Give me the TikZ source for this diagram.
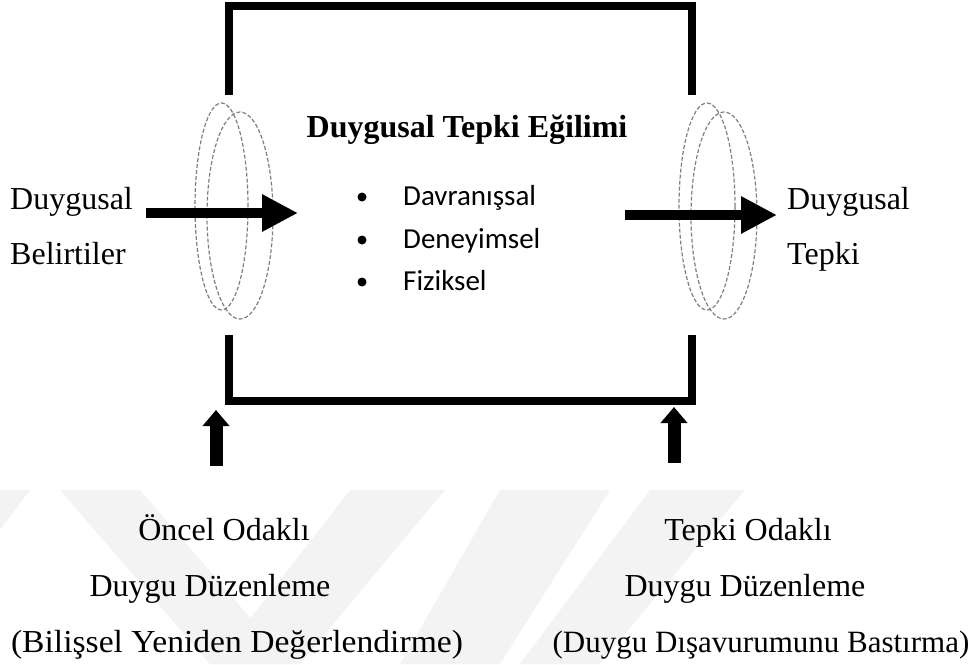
\documentclass[tikz,border=0pt]{standalone}
\usepackage{fontspec}
\setmainfont{Liberation Serif}
\newfontfamily\calibrifont{Carlito}
\usetikzlibrary{arrows.meta}
\definecolor{wmark}{HTML}{F3F3F3}
\definecolor{ringgray}{HTML}{7F7F7F}
\begin{document}
\begin{tikzpicture}[x=1pt,y=-1pt,
  lbl/.style={inner sep=0pt, font=\fontsize{32}{38}\selectfont},
  ttl/.style={inner sep=0pt, font=\fontsize{32}{38}\selectfont\bfseries},
  blt/.style={inner sep=0pt, font=\fontsize{29}{34}\selectfont\calibrifont},
  dot/.style={circle, fill=black, inner sep=0pt, minimum size=9pt},
  bracket/.style={line width=8pt, line join=miter},
  ring/.style={draw=ringgray, line width=1.2pt, dash pattern=on 4pt off 2pt},
  bigarrow/.style={line width=10pt, -{Triangle[length=36pt,width=35pt]}},
  uparrow/.style={line width=13pt, -{Triangle[length=16pt,width=26pt]}}]
\useasboundingbox (0,0) rectangle (969,664);
% faint watermark
\fill[wmark] (60,490) -- (140,490) -- (290,664) -- (210,664) -- cycle;
\fill[wmark] (350,490) -- (445,490) -- (300,664) -- (215,664) -- cycle;
\fill[wmark] (500,490) -- (610,490) -- (500,664) -- (400,664) -- cycle;
\fill[wmark] (650,490) -- (745,490) -- (600,664) -- (520,664) -- cycle;
\fill[wmark] (0,490) -- (30,490) -- (0,530) -- cycle;
% brackets
\coordinate (tl) at (229,95); \coordinate (tlc) at (229,6);
\coordinate (trc) at (692,6); \coordinate (tr) at (692,95);
\draw[bracket] (tl) -- (tlc) -- (trc) -- (tr);
\coordinate (bl) at (229,335); \coordinate (blc) at (229,401);
\coordinate (brc) at (692,401); \coordinate (br) at (692,335);
\draw[bracket] (bl) -- (blc) -- (brc) -- (br);
% rings
\coordinate (rl1) at (221.5,206.5); \coordinate (rl2) at (240,215.5);
\coordinate (rr1) at (707,206.5); \coordinate (rr2) at (724,215.5);
\draw[ring] (rl1) ellipse [x radius=26.5pt, y radius=103.5pt];
\draw[ring] (rl2) ellipse [x radius=33pt, y radius=103.5pt];
\draw[ring] (rr1) ellipse [x radius=28pt, y radius=103.5pt];
\draw[ring] (rr2) ellipse [x radius=33pt, y radius=103.5pt];
% side texts
\node[lbl, anchor=base west] (dusl) at (10,209) {Duygusal};
\node[lbl, anchor=base west] (bel) at (10,264) {Belirtiler};
\node[lbl, anchor=base west] (dusr) at (787,209) {Duygusal};
\node[lbl, anchor=base west] (tep) at (787,264) {Tepki};
% title and bullets
\node[ttl, anchor=base] (title) at (467,137) {Duygusal Tepki Eğilimi};
\node[dot] (d1) at (362,197) {};
\node[dot] (d2) at (362,240) {};
\node[dot] (d3) at (362,282) {};
\node[blt, anchor=base west] (b1) at (403,205) {Davranışsal};
\node[blt, anchor=base west] (b2) at (403,248) {Deneyimsel};
\node[blt, anchor=base west] (b3) at (403,290) {Fiziksel};
% horizontal arrows
\coordinate (las) at (146,213); \coordinate (lae) at (298,213);
\coordinate (ras) at (625,215); \coordinate (rae) at (777,215);
\draw[bigarrow] (las) -- (lae);
\draw[bigarrow] (ras) -- (rae);
% up arrows
\coordinate (uls) at (216,466); \coordinate (ule) at (216,410);
\coordinate (urs) at (674,463); \coordinate (ure) at (674,407);
\draw[uparrow] (uls) -- (ule);
\draw[uparrow] (urs) -- (ure);
% bottom texts
\node[lbl, anchor=base] (o1) at (224,540) {Öncel Odaklı};
\node[lbl, anchor=base] (o2) at (210,596) {Duygu Düzenleme};
\node[lbl, anchor=base] (o3) at (237,652) {\scalebox{1.05}[1]{(Bilişsel Yeniden Değerlendirme)}};
\node[lbl, anchor=base] (t1) at (748,540) {Tepki Odaklı};
\node[lbl, anchor=base] (t2) at (745,596) {Duygu Düzenleme};
\node[lbl, anchor=base, font=\fontsize{31}{38}\selectfont] (t3) at (761,652) {(Duygu Dışavurumunu Bastırma)};
\end{tikzpicture}
\end{document}
